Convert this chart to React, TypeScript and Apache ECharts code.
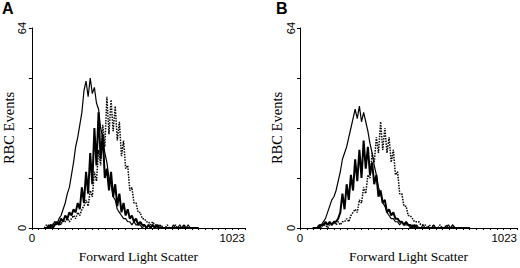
import React, { useEffect, useRef } from "react";
import * as echarts from "echarts";

// Histogram channels: 60, 70, ..., 800
const CH_START = 60;
const CH_STEP = 10;

const aSolid = [0,0,1,0,1,2,1,3,4,6, 8,11,13,17,21,26,29,33,37,44, 47,42,48,43,45,40,38,32,29,24, 21,16,14,10,9,6,5,4,3,3, 2,2,1,2,1,1,1,0,1,0, 1,0,1,0,0,1,0,0,0,0, 0,0,1,0,0,1,0,1,0,1, 0,0,0,0,0];
const aBlack = [0,0,0,1,0,1,2,1,3,2, 4,3,5,4,6,5,8,6,13,8, 18,11,24,14,32,20,37,22,30,16, 19,12,18,10,14,7,11,5,8,4, 6,3,4,2,3,1,2,1,1,0, 1,0,1,0,1,0,0,0,0,0, 0,0,0,0,0,0,0,0,0,0, 0,0,0,0,0];
const aDotted = [0,1,0,1,1,2,1,2,1,3, 2,3,2,3,4,3,5,4,6,7, 9,7,12,10,18,15,25,20,33,26, 42,30,41,31,39,28,34,23,28,19, 20,12,13,8,8,5,5,3,3,2, 2,1,2,1,1,0,1,0,0,1, 0,0,0,1,0,0,0,1,0,0, 0,0,0,0,0];

const bSolid = [0,0,0,1,1,2,3,5,7,9, 10,12,15,18,22,24,26,29,32,35, 38,35,39,34,37,34,31,27,24,20, 17,13,11,8,7,5,4,3,3,2, 2,1,2,1,1,1,0,1,0,1, 0,0,1,0,0,0,0,1,0,0, 0,0,0,0,1,0,1,0,0,0, 0,0,0,0,0];
const bBlack = [0,0,0,0,1,1,2,1,2,1, 2,2,3,5,11,6,14,9,17,12, 22,15,25,16,28,19,26,17,21,14, 17,10,12,8,9,5,6,4,5,3, 3,2,2,1,2,1,1,0,1,0, 0,0,0,0,0,0,0,0,0,0, 0,0,0,0,0,0,0,0,0,0, 0,0,0,0,0];
const bDotted = [0,0,0,1,0,1,1,0,1,1, 2,1,2,1,2,2,3,2,4,5, 6,5,9,8,13,11,17,16,24,21, 29,24,34,25,32,24,29,21,25,17, 18,11,11,7,7,4,4,3,2,2, 2,1,1,1,0,1,0,1,0,0, 1,0,0,1,0,0,1,0,0,0, 0,0,0,0,0];

const X_MIN = 0;
const X_MAX = 1023;
const Y_MIN = 0;
const Y_MAX = 64;
const xTickValues = [0,32,64,96,128,160,192,224,256,288,320,352,384,416,448,480,512,544,576,608,640,672,704,736,768,800,832,864,896,928,960,992,1023];
const xLabelValues = [0, 1023];
const yTickValues = [0, 16, 32, 48, 64];
const yLabelValues = [0, 64];
const panelLetters = ["A", "B"];
const xName = "Forward Light Scatter";
const yName = "RBC Events";

const toPairs = (arr: number[]) => arr.map((v, i) => [CH_START + i * CH_STEP, v]);

export default function App() {
  const ref = useRef<HTMLDivElement>(null);
  useEffect(() => {
    if (!ref.current) return;
    const chart = echarts.init(ref.current, null, { renderer: "svg" });
    const grids = [
      { left: 30, top: 28, width: 215, height: 201 },
      { left: 300, top: 28, width: 218, height: 200 },
    ];
    const xAxes = grids.map((_, i) => ({
      type: "value",
      gridIndex: i,
      min: X_MIN,
      max: X_MAX,
      name: xName,
      nameLocation: "middle",
      nameGap: 21,
      nameTextStyle: { fontFamily: "Liberation Serif", fontSize: 13.5, color: "#000" },
      axisLine: { show: true, lineStyle: { color: "#000", width: 1 } },
      axisTick: { show: true, customValues: xTickValues, length: 2, lineStyle: { color: "#000" } },
      axisLabel: {
        show: true,
        customValues: xLabelValues,
        margin: 4,
        fontFamily: "Liberation Sans",
        fontSize: 11.5,
        color: "#000",
        alignMaxLabel: "right",
        formatter: (v: number) => String(v),
      },
      splitLine: { show: false },
    }));
    const yAxes = grids.map((_, i) => ({
      type: "value",
      gridIndex: i,
      min: Y_MIN,
      max: Y_MAX,
      name: yName,
      nameLocation: "middle",
      nameRotate: 90,
      nameGap: 15,
      nameTextStyle: { fontFamily: "Liberation Serif", fontSize: 14.5, color: "#000" },
      axisLine: { show: true, lineStyle: { color: "#000", width: 1 } },
      axisTick: { show: true, customValues: yTickValues, length: 3, lineStyle: { color: "#000" } },
      axisLabel: {
        show: true,
        customValues: yLabelValues,
        rotate: 90,
        margin: 4,
        fontFamily: "Liberation Sans",
        fontSize: 11,
        color: "#000",
        formatter: (v: number) => String(v),
      },
      splitLine: { show: false },
    }));
    const mk = (data: number[], idx: number, kind: string) => ({
      type: "line",
      xAxisIndex: idx,
      yAxisIndex: idx,
      data: toPairs(data),
      showSymbol: false,
      symbol: "none",
      silent: true,
      lineStyle:
        kind === "dotted"
          ? { color: "#000", width: 1.5, type: [1.5, 1.2] }
          : kind === "black"
          ? { color: "#000", width: 2 }
          : { color: "#000", width: 1.2 },
    });
    chart.setOption({
      animation: false,
      backgroundColor: "#fff",
      grid: grids,
      xAxis: xAxes,
      yAxis: yAxes,
      series: [
        mk(aDotted, 0, "dotted"),
        mk(aBlack, 0, "black"),
        mk(aSolid, 0, "solid"),
        mk(bDotted, 1, "dotted"),
        mk(bBlack, 1, "black"),
        mk(bSolid, 1, "solid"),
      ],
      graphic: [
        { type: "text", left: 2, top: 0, style: { text: panelLetters[0], font: "bold 16px 'Liberation Sans'", fill: "#000" } },
        { type: "text", left: 276, top: 0, style: { text: panelLetters[1], font: "bold 16px 'Liberation Sans'", fill: "#000" } },
      ],
    });
    return () => chart.dispose();
  }, []);
  return <div ref={ref} style={{ width: 520, height: 268, position: "absolute", left: 0, top: 0 }} />;
}
